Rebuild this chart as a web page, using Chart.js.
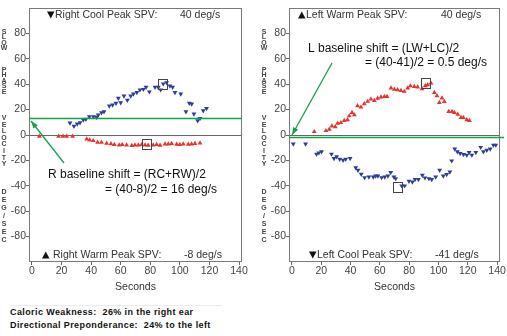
<!DOCTYPE html>
<html>
<head>
<meta charset="utf-8">
<script src="https://cdn.jsdelivr.net/npm/chart.js@4/dist/chart.umd.min.js"></script>
<style>
  body { margin: 0; background: #fff; width: 507px; height: 336px; position: relative; overflow: hidden; font-family: "Liberation Sans", Arial, sans-serif; }
  #leftWrap { position: absolute; left: 0; top: 0; width: 253px; height: 296px; }
  #rightWrap { position: absolute; left: 253px; top: 0; width: 254px; height: 296px; }
  #footer { position: absolute; left: 10px; top: 305px; width: 212px; border-top: 1px solid #ececec; padding-top: 0px;
    font: bold 9px "Liberation Sans", Arial, sans-serif; letter-spacing: 0.4px; color: #111; line-height: 13px; }
</style>
</head>
<body>
<div id="leftWrap"><canvas id="leftChart"></canvas></div>
<div id="rightWrap"><canvas id="rightChart"></canvas></div>
<div id="footer">
  <div>Caloric Weakness:&nbsp; 26% in the right ear</div>
  <div style="white-space:nowrap">Directional Preponderance:&nbsp; 24% to the left</div>
</div>
<script>
// tick labels
const xTicks = [0, 20, 40, 60, 80, 100, 120, 140];
const yTicks = [-80, -60, -40, -20, 0, 20, 40, 60, 80];

// right ear: cool (down triangles) and warm (up triangles)
const rcTime = [25.7, 28.4, 30.6, 32.5, 34.7, 36.5, 38.8, 41.5, 43.7, 44.8, 47, 48.7, 52.3, 54.5, 56.8, 58.4, 60, 62.2, 64.5, 66.8, 68.6, 70.9, 73, 75.3, 77.1, 79.4, 83.2, 85.4, 87, 88.8, 91, 93.3, 95.1, 96.7, 100.6, 104.1, 106.4, 108, 109.5, 112, 113.6, 115.8, 118];
const rcSpv = [9.5, 7, 8.7, 9.7, 11.9, 12.4, 14.5, 14.5, 14, 15.8, 17.6, 18.4, 22.9, 23.7, 25, 29, 25.5, 30.8, 27.5, 30.8, 32.4, 33.5, 35.6, 36, 37.7, 34, 37.7, 37.7, 35.6, 40.3, 41.3, 38.7, 37.7, 33.5, 32.4, 18.4, 25, 24.5, 16.6, 11.3, 13.1, 19.2, 21];
const rwTime = [5, 18, 21, 23.5, 27.5, 37, 39, 41.4, 44.4, 47, 50.5, 53.4, 55.7, 59, 61, 64, 67.5, 69.6, 71.9, 74.2, 76.5, 78.6, 82, 84.3, 86.6, 90, 92.2, 94.4, 97.8, 100, 102.3, 105.7, 107.9, 110.2, 113.6];
const rwSpv = [-1, -1, -1, -1, -1, -3.2, -4, -4.5, -5.8, -5.8, -6.6, -7, -7.6, -8, -7.6, -8, -8.4, -7.9, -7.9, -7.6, -7.9, -8.2, -7.9, -7.6, -8.2, -7.1, -7.1, -6.8, -7.4, -7.6, -7.1, -7.4, -7.1, -6.8, -6.3];

// left ear: warm (up triangles) and cool (down triangles)
const lwTime = [15.2, 23.2, 25.5, 27.3, 29.6, 31.2, 33.4, 35.7, 38, 39.1, 41, 42.6, 44.8, 47.1, 49.4, 51.7, 53.9, 56.2, 58.5, 60.8, 63.1, 64.9, 67.6, 69.9, 72.1, 74.4, 76.7, 79, 80.8, 83.5, 85.8, 88.8, 91, 92.6, 94.9, 97.2, 99, 100.6, 102.4, 104, 107, 109.3, 110.9, 113.2, 115.4, 117, 119.3, 121.1];
const lwSpv = [2.6, 3.4, 4.5, 7, 6.5, 9.2, 9.7, 11.3, 11.9, 15, 17.6, 15.8, 22.9, 21.9, 24.5, 26.4, 28.2, 27.1, 28.9, 29.8, 30.2, 30.2, 36.9, 36, 35.6, 35, 34.3, 36.9, 38.7, 38.2, 37.7, 36.4, 38.7, 39.5, 40.8, 33.4, 30.8, 25.5, 29, 26.3, 18.4, 18.4, 17.6, 16.3, 13.7, 13.7, 11.9, 11.3];
const lcTime = [0.9, 9.3, 16.8, 18.4, 20.2, 27, 28.7, 30.5, 32.6, 34.9, 36.7, 39.7, 43.5, 45.1, 47.3, 49.6, 52.5, 55.5, 57.1, 58.7, 61.2, 63.3, 65.5, 67.4, 69.6, 70.8, 74.9, 76.9, 79.9, 82.2, 84, 86.3, 89, 90.8, 93.5, 95.4, 98.1, 100.8, 103.3, 105.6, 107.8, 109, 111.1, 112.9, 114.8, 117.1, 119.3, 120.9, 122.8, 125.5, 128.8, 130.7, 133, 135.3, 137.5, 139.1];
const lcSpv = [-7.1, -7.1, -15, -14, -13.2, -15, -18.4, -17, -19, -19.8, -19, -18.4, -25.8, -27.7, -30.8, -33.5, -33, -33, -32.2, -32.2, -33.5, -33, -32.2, -29.5, -33, -34.3, -40, -40, -36.3, -36.9, -35, -35, -31.6, -33.7, -34.3, -35, -33, -27.7, -32.2, -31.1, -29, -20.3, -11, -13.2, -14.5, -15.3, -15.8, -13.7, -15.8, -13.7, -9.7, -13.2, -11.9, -11, -7.9, -7.9];

// peak markers [time, spv] and baseline shifts
const rightPeaks = [[88.5, 40], [78, -7.6]];
const leftPeaks = [[91.4, 40.6], [72.3, -41.2]];
const rightBaseline = 13.5;
const leftBaseline = -1.5;

const FONT = '"Liberation Sans", Arial, sans-serif';
const BLUE = '#2c3f95';
const RED = '#e5332f';
const GREEN = '#17a04a';

function pts(xs, ys) {
  return xs.map((x, i) => ({ x: x, y: ys[i] }));
}

function tri(ctx, x, y, down) {
  // solid marker glyph in front of a label, x = left edge, y = middle
  ctx.beginPath();
  if (down) {
    ctx.moveTo(x, y - 3.5); ctx.lineTo(x + 7.5, y - 3.5); ctx.lineTo(x + 3.75, y + 3.5);
  } else {
    ctx.moveTo(x, y + 3.5); ctx.lineTo(x + 7.5, y + 3.5); ctx.lineTo(x + 3.75, y - 3.5);
  }
  ctx.closePath();
  ctx.fill();
}

const decoPlugin = {
  id: 'deco',
  afterDraw(chart, args, o) {
    const ctx = chart.ctx;
    const a = chart.chartArea;
    const xs = chart.scales.x, ys = chart.scales.y;
    ctx.save();

    // frame
    ctx.strokeStyle = '#7a7a7a';
    ctx.lineWidth = 1;
    ctx.strokeRect(a.left + 0.5, a.top + 0.5, a.right - a.left - 1, a.bottom - a.top - 1);

    // baseline shift line
    const by = Math.round(ys.getPixelForValue(o.baseline)) + 0.5;
    ctx.strokeStyle = GREEN;
    ctx.lineWidth = 1.3;
    ctx.beginPath();
    ctx.moveTo(a.left, by);
    ctx.lineTo(o.lineEnd || a.right, by);
    ctx.stroke();

    // peak boxes
    ctx.strokeStyle = '#444';
    ctx.lineWidth = 1;
    o.peaks.forEach(p => {
      const px = xs.getPixelForValue(p[0]), py = ys.getPixelForValue(p[1]);
      ctx.strokeRect(Math.round(px - 5) + 0.5, Math.round(py - 5.5) + 0.5, 9, 10);
    });

    // arrow
    const [x1, y1, x2, y2] = o.arrow;
    ctx.strokeStyle = GREEN;
    ctx.fillStyle = GREEN;
    ctx.lineWidth = 1.3;
    ctx.beginPath();
    ctx.moveTo(x1, y1);
    ctx.lineTo(x2, y2);
    ctx.stroke();
    const ang = Math.atan2(y2 - y1, x2 - x1);
    ctx.beginPath();
    ctx.moveTo(x2, y2);
    ctx.lineTo(x2 - 8 * Math.cos(ang - 0.35), y2 - 8 * Math.sin(ang - 0.35));
    ctx.lineTo(x2 - 8 * Math.cos(ang + 0.35), y2 - 8 * Math.sin(ang + 0.35));
    ctx.closePath();
    ctx.fill();

    // peak labels: [down?, triangle x, text x, value x, y, text, value]
    ctx.textBaseline = 'middle';
    ctx.fillStyle = '#333';
    ctx.font = '10.5px ' + FONT;
    ctx.textAlign = 'left';
    o.labels.forEach(l => {
      ctx.fillStyle = '#111';
      tri(ctx, l[1], l[4], l[0]);
      ctx.fillStyle = '#333';
      ctx.fillText(l[5], l[2], l[4]);
      ctx.fillText(l[6], l[3], l[4]);
    });

    // baseline shift formula
    ctx.fillStyle = '#111';
    ctx.font = '12px ' + FONT;
    ctx.textAlign = 'left';
    ctx.fillText(o.note[0], o.note[1], o.note[2]);
    ctx.textAlign = 'right';
    ctx.fillText(o.note[3], o.note[4], o.note[5]);

    // vertical stacked axis title
    ctx.fillStyle = '#444';
    ctx.font = 'bold 7px ' + FONT;
    ctx.textAlign = 'center';
    const words = [['SLOW', 32, 5.4], ['PHASE', 70, 5.4], ['VELOCITY', 118, 6.6], ['DEG/SEC', 192, 8]];
    words.forEach(w => {
      [...w[0]].forEach((c, i) => ctx.fillText(c, o.titleX, w[1] + i * w[2]));
    });

    // x title
    ctx.fillStyle = '#333';
    ctx.font = '10.5px ' + FONT;
    ctx.textAlign = 'center';
    ctx.fillText('Seconds', (xs.getPixelForValue(0) + xs.getPixelForValue(140)) / 2, 287);

    ctx.restore();
  }
};

function makeChart(id, down, up, yWidth, padRight, deco) {
  return new Chart(document.getElementById(id), {
    type: 'scatter',
    data: {
      datasets: [
        { data: down, pointStyle: 'triangle', rotation: 180, pointRadius: 2.8, backgroundColor: BLUE, borderColor: BLUE, borderWidth: 0 },
        { data: up, pointStyle: 'triangle', pointRadius: 2.8, backgroundColor: RED, borderColor: RED, borderWidth: 0 }
      ]
    },
    options: {
      responsive: false,
      animation: false,
      layout: { padding: { top: 8, right: padRight, left: 0, bottom: 0 } },
      plugins: { legend: { display: false }, tooltip: { enabled: false }, deco: deco },
      scales: {
        x: {
          type: 'linear', min: -2, max: 142,
          afterBuildTicks: s => { s.ticks = xTicks.map(v => ({ value: v })); },
          afterFit: s => { s.height = 34; },
          grid: { drawOnChartArea: false, tickLength: 3, tickColor: '#666' },
          border: { display: false },
          ticks: { padding: 0, color: '#444', font: { family: FONT, size: 10.5 } }
        },
        y: {
          type: 'linear', min: -100, max: 100,
          afterBuildTicks: s => { s.ticks = yTicks.map(v => ({ value: v })); },
          afterFit: s => { s.width = yWidth; },
          grid: {
            tickLength: 3, tickColor: '#666',
            color: c => (c.tick && c.tick.value === 0) ? '#666' : 'rgba(0,0,0,0)',
            lineWidth: 1
          },
          border: { display: false },
          ticks: { padding: 0, color: '#444', font: { family: FONT, size: 10.5 } }
        }
      }
    },
    plugins: [decoPlugin]
  });
}

function sizeCanvas(id, w, h) {
  const c = document.getElementById(id);
  c.width = w; c.height = h;
  c.style.width = w + 'px'; c.style.height = h + 'px';
}

sizeCanvas('leftChart', 253, 296);
sizeCanvas('rightChart', 254, 296);

// left panel: right ear
makeChart('leftChart', pts(rcTime, rcSpv), pts(rwTime, rwSpv), 29, 11, {
  baseline: rightBaseline,
  peaks: rightPeaks,
  arrow: [64, 163, 31, 121],
  labels: [
    [true, 47, 55, 180, 15, 'Right Cool Peak SPV:', '40 deg/s'],
    [false, 42, 53, 184, 255, 'Right Warm Peak SPV:', '-8 deg/s']
  ],
  note: ['R baseline shift = (RC+RW)/2', 48, 175, '= (40-8)/2 = 16 deg/s', 217, 190],
  titleX: 4
});

// right panel: left ear
makeChart('rightChart', pts(lcTime, lcSpv), pts(lwTime, lwSpv), 36, 7, {
  baseline: leftBaseline,
  peaks: leftPeaks,
  lineEnd: 251,
  arrow: [79, 63, 39, 135],
  labels: [
    [false, 45, 53, 188, 15, 'Left Warm Peak SPV:', '40 deg/s'],
    [true, 56, 64, 182, 255, 'Left Cool Peak SPV:', '-41 deg/s']
  ],
  note: ['L baseline shift = (LW+LC)/2', 55, 49, '= (40-41)/2 = 0.5 deg/s', 234, 63],
  titleX: 11
});
</script>
</body>
</html>
